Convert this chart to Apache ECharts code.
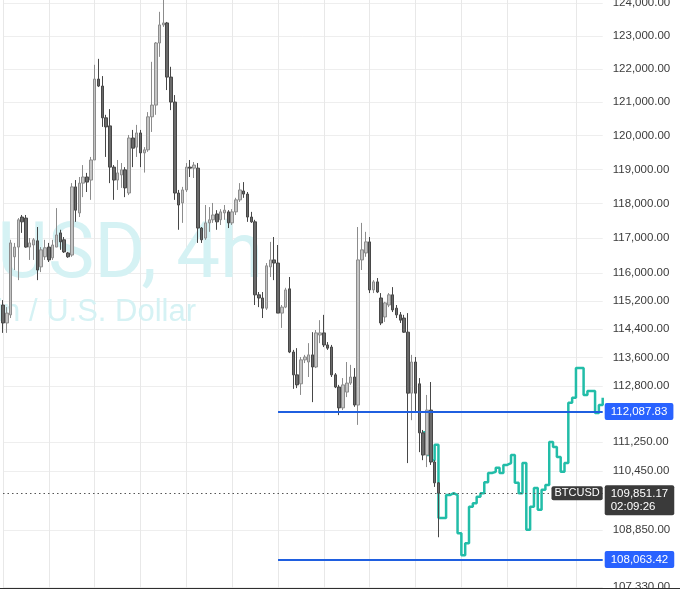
<!DOCTYPE html>
<html>
<head>
<meta charset="utf-8">
<script src="https://cdn.jsdelivr.net/npm/echarts@6/dist/echarts.min.js"></script>
<style>
  html, body { margin: 0; padding: 0; background: #ffffff; }
  #chart { width: 680px; height: 610px; }
</style>
</head>
<body>
<div id="chart"></div>
<script>
// ---- data (BTCUSD, 4h candles) ----
const candleCount = 158;
const categories = [];
for (let i = 0; i < candleCount; i++) {
  const d = new Date(Date.UTC(2025, 6, 20, 0) + i * 4 * 3600 * 1000);
  categories.push(d.toISOString().slice(0, 13).replace('T', ' ') + ':00');
}

const opens = [115080,114570,114800,116460,116740,117610,117580,116740,116800,116920,
  116170,116460,116740,116430,116740,117150,116950,116570,116510,118490,
  117730,118600,118780,118690,119280,121690,121480,120530,120290,119070,
  118690,118840,118990,118310,119930,119660,120080,119490,119580,120560,
  120910,122780,123330,123390,121750,121000,118310,118020,118400,119070,
  119040,119040,117290,117000,117440,117530,117700,117530,117730,117760,
  117440,117760,118110,118370,118280,117610,117470,115370,115280,114990,
  116170,116370,116280,114850,115020,115540,113750,113110,112860,113530,
  113470,113670,113330,114230,114290,113950,113890,113110,112770,112190,
  112630,112880,113050,112270,116370,116570,116890,115510,115740,115280,
  114740,115080,115370,114990,114800,114710,114310,112600,113470,112860,
  111500,110890,112130,110700,110130];
const closes = [114570,114850,116860,116740,117530,117470,116740,116860,116950,116080,
  116660,116720,116370,116800,117090,116890,116600,116460,118490,117810,
  118600,118780,118630,119280,121690,121480,120530,120260,119070,118690,
  118900,118990,118460,119930,119630,120080,119490,119580,120560,120910,
  122780,123330,123390,121750,121000,118310,117960,118400,119070,119040,
  119130,117290,116950,117440,117530,117670,117470,117760,117810,117440,
  117760,118110,118400,118280,117610,117470,115370,115280,114990,116200,
  116370,116280,114850,115020,115510,113750,113110,112830,113530,113610,
  113670,113330,114290,114290,113950,113860,113110,112770,112190,112830,
  112880,113050,112270,116370,116660,116890,115510,115740,115450,114570,
  115140,115370,114940,114800,114650,114310,112600,113470,112600,111500,
  110890,112130,110700,110130,109851.17];
const lows = [114290,114290,114710,116080,115790,117150,116720,116370,116370,115790,
  116020,116370,116310,116370,116740,116660,116570,116430,116460,117470,
  117610,118190,118340,118110,119280,121450,120260,119370,118600,118110,
  118400,118460,118190,118250,119070,119370,119070,118910,119520,120110,
  120620,122360,123270,121360,120760,118110,117240,117440,118340,118780,
  118750,116860,116860,116950,117180,117440,117240,117380,117530,117290,
  117380,117670,118050,118170,117470,117440,115080,115020,114710,114940,
  115880,115790,114850,114430,114990,113720,112720,112740,112550,113440,
  113050,112350,113300,114000,113890,113810,113050,112740,111990,112130,
  112490,112830,112220,111720,116080,116460,115420,115420,115420,114510,
  114600,115020,114880,114710,114570,114290,110670,111850,112050,110970,
  110750,110560,110620,110020,108660];
const highs = [115220,115020,116950,116860,117580,117670,117670,117000,117000,117320,
  116740,116950,116860,116950,117870,117240,117030,116600,118600,118690,
  118780,119130,118900,119370,122120,122300,121780,120620,120790,119130,
  119280,119190,119070,120020,120170,120320,120170,119660,120700,122210,
  122810,123730,124150,123420,122060,121210,118400,118490,119190,119280,
  119220,119190,117320,117960,117900,118020,117810,117840,117960,117810,
  117840,118170,118600,118630,118340,117760,117530,115450,115450,116280,
  116890,117030,116800,115080,115570,115880,113810,113860,113610,113670,
  114000,114310,114370,114650,114800,114030,113950,113160,112830,113020,
  113470,113390,113300,117320,117440,117180,117030,115790,115850,115420,
  115170,115420,115590,115080,114880,114800,114850,113670,113610,113020,
  111580,112550,112910,110750,110150];

// drawn path (teal step line), starting at candle 110
const pathStart = 110;
const pathPrices = [111520,110890,110750,111170,109180,109180,109800,109850,109800,108770,
  108180,108500,109480,109580,109750,109850,110150,110400,110430,110540,
  110400,110620,110670,110890,110130,109850,110670,108860,109480,109990,
  109400,109940,110070,111250,111110,110840,110430,110670,112330,112470,
  113300,113300,112550,112660,112660,112050,112270,112470];

// horizontal levels
const levelUpper = 112087.83;
const levelLower = 108063.42;
const lastPrice = 109851.17;
const countdown = '02:09:26';
const symbolName = 'BTCUSD';
const levelStartIndex = 72;

// price axis tick labels
const yTicks = [124000,123000,122000,121000,120000,119000,118000,117000,116000,
  115200,114400,113600,112800,111250,110450,108850,107330];
// vertical grid line positions (candle indices)
const vGridAt = [0,12,24,36,48,60,72,84,96,108,120,132,150];

// ---- build ----
const fmt = v => Number(v).toLocaleString('en-US', {minimumFractionDigits: 2, maximumFractionDigits: 2});
const candleData = opens.map((o, i) => [o, closes[i], lows[i], highs[i]]);
const pathData = categories.map((c, i) => {
  const k = i - pathStart;
  return (k >= 0 && k < pathPrices.length) ? pathPrices[k] : null;
});
const lastCat = categories[candleCount - 1];
const FONT = 'Liberation Sans, Arial, sans-serif';

const chart = echarts.init(document.getElementById('chart'), null, {renderer: 'canvas'});
const option = {
  animation: false,
  backgroundColor: '#ffffff',
  grid: { left: 3, right: 77.3, top: 0, bottom: 22, containLabel: false, outerBoundsMode: 'none' },
  xAxis: {
    type: 'category',
    data: categories,
    boundaryGap: false,
    axisLine: { show: false },
    axisTick: { show: false },
    axisLabel: { show: false },
    splitLine: {
      show: true,
      interval: (idx) => vGridAt.indexOf(idx) >= 0,
      lineStyle: { color: '#e8e8e8', width: 1 }
    }
  },
  yAxis: {
    type: 'log',
    logBase: 10,
    position: 'right',
    min: 107305,
    max: 124092,
    axisLine: { show: false },
    axisTick: { show: false, customValues: yTicks },
    axisLabel: {
      customValues: yTicks,
      margin: 10,
      color: '#3b3b3b',
      fontSize: 11.5,
      fontFamily: FONT,
      formatter: v => fmt(v)
    },
    splitLine: { show: true, lineStyle: { color: '#eeeeee', width: 1 } }
  },
  graphic: [
    { type: 'text', z: 1, silent: true,
      style: { text: 'BTCUSD, 4h', x: 263, y: 257, align: 'right', verticalAlign: 'middle',
        font: '78px Roboto, ' + FONT, fill: '#d5f2f4' } },
    { type: 'text', z: 1, silent: true,
      style: { text: 'Bitcoin / U.S. Dollar', x: 196, y: 312, align: 'right', verticalAlign: 'middle',
        font: '31px ' + FONT, fill: '#d5f2f4' } },
    { type: 'rect', z: 100, silent: true,
      shape: { x: 0, y: 588, width: 680, height: 22 }, style: { fill: '#ffffff' } },
    { type: 'line', z: 101, silent: true,
      shape: { x1: 0, y1: 588.5, x2: 680, y2: 588.5 }, style: { stroke: '#2f2f2f', lineWidth: 1 } }
  ],
  series: [
    {
      name: 'path',
      type: 'line',
      data: pathData,
      step: 'end',
      showSymbol: false,
      symbol: 'none',
      connectNulls: false,
      z: 2,
      lineStyle: { color: '#22bda8', width: 2.5 }
    },
    {
      name: symbolName,
      type: 'candlestick',
      data: candleData,
      barWidth: 3,
      z: 3,
      itemStyle: {
        color: '#c4c4c4',
        color0: '#6a6a6a',
        borderColor: '#8c8c8c',
        borderColor0: '#474747',
        borderWidth: 1
      },
      markLine: {
        silent: true,
        symbol: ['none', 'none'],
        animation: false,
        data: [
          [ { coord: [categories[levelStartIndex], levelUpper], value: levelUpper },
            { coord: [lastCat, levelUpper], value: levelUpper } ],
          [ { coord: [categories[levelStartIndex], levelLower], value: levelLower },
            { coord: [lastCat, levelLower], value: levelLower } ],
          { yAxis: lastPrice,
            lineStyle: { color: '#555555', width: 1, type: [1.5, 3] },
            label: { show: false } }
        ],
        lineStyle: { color: '#1f5fe0', width: 2, type: 'solid' },
        label: {
          show: true,
          position: 'end',
          distance: 2,
          formatter: p => fmt(p.value),
          color: '#ffffff',
          backgroundColor: '#2962ff',
          padding: [3, 6, 2, 6],
          borderRadius: 2,
          fontSize: 11.5,
          fontFamily: FONT
        }
      },
      markPoint: {
        silent: true,
        symbol: 'rect',
        symbolSize: 0,
        animation: false,
        data: [
          { coord: [lastCat, lastPrice], value: lastPrice,
            label: {
              show: true, position: 'right', distance: 2, offset: [0, 7],
              formatter: p => fmt(p.value) + '\n' + countdown,
              color: '#ffffff', backgroundColor: '#3a3a3a',
              padding: [2, 6, 2, 6], borderRadius: 2, lineHeight: 13,
              fontSize: 11.5, fontFamily: FONT, align: 'left'
            } },
          { coord: [lastCat, lastPrice], value: lastPrice,
            label: {
              show: true, position: 'left', distance: 0,
              formatter: () => symbolName,
              color: '#ffffff', backgroundColor: '#3a3a3a',
              padding: [2, 3, 1, 3], borderRadius: 2,
              fontSize: 11, fontFamily: FONT
            } }
        ]
      }
    }
  ]
};
chart.setOption(option);
</script>
</body>
</html>
